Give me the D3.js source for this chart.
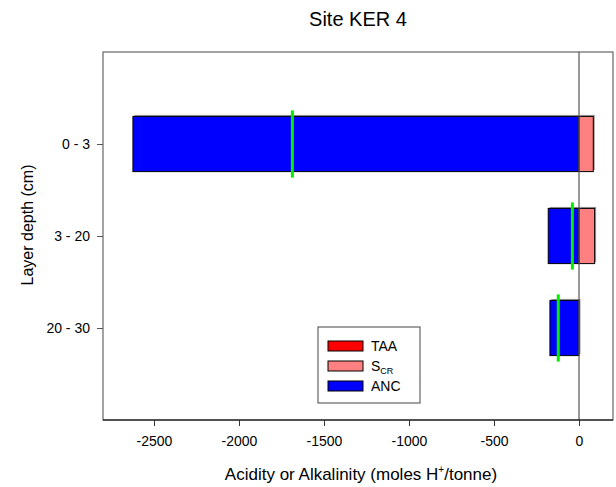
<!DOCTYPE html>
<html>
<head>
<meta charset="utf-8">
<script src="https://cdn.jsdelivr.net/npm/d3@7"></script>
<style>
body { margin: 0; background: #fff; }
text { font-family: "Liberation Sans", Arial, sans-serif; }
</style>
</head>
<body>
<div id="chart"></div>
<script>
var layers = ["0 - 3", "3 - 20", "20 - 30"];
var taa = [0, 0, 0];
var scr = [84, 92, 0];
var anc = [-2624, -181, -171];
var net = [-1686, -39, -122];
var xTicks = [-2500, -2000, -1500, -1000, -500, 0];

var W = 616, H = 487;
var plotLeft = 103, plotRight = 613, plotTop = 52, plotBottom = 420;

var svg = d3.select("#chart").append("svg")
    .attr("width", W).attr("height", H);

var x = d3.scaleLinear().domain([-2800, 200]).range([plotLeft, plotRight]);
var y = d3.scaleLinear().domain([0, 4]).range([plotTop, plotBottom]);
var barH = y(0.6) - y(0);

// frame
svg.append("rect")
    .attr("x", plotLeft).attr("y", plotTop)
    .attr("width", plotRight - plotLeft).attr("height", plotBottom - plotTop)
    .attr("fill", "none").attr("stroke", "#666").attr("stroke-width", 1.2);

var rows = layers.map(function (d, i) {
    return { layer: d, taa: taa[i], scr: scr[i], anc: anc[i], net: net[i], pos: i + 1 };
});

function bar(x0, x1, yc, color) {
    if (x0 == x1) return;
    var a = Math.min(x(x0), x(x1)), b = Math.max(x(x0), x(x1));
    // drop shadow
    svg.append("rect")
        .attr("x", a + 1.5).attr("y", y(yc) - barH / 2 - 1.5)
        .attr("width", b - a).attr("height", barH)
        .attr("fill", "#999");
    svg.append("rect")
        .attr("x", a).attr("y", y(yc) - barH / 2)
        .attr("width", b - a).attr("height", barH)
        .attr("fill", color).attr("stroke", "#000").attr("stroke-width", 1);
}

rows.forEach(function (r) {
    bar(0, r.anc, r.pos, "#0000ff");
    bar(0, r.taa, r.pos, "#ff0000");
    bar(r.taa, r.taa + r.scr, r.pos, "#ff8080");
});

// zero line over bars
svg.append("line")
    .attr("x1", x(0)).attr("x2", x(0))
    .attr("y1", plotTop).attr("y2", plotBottom)
    .attr("stroke", "#555").attr("stroke-width", 1.2);

// net lines
svg.selectAll(".net").data(rows).enter().append("line")
    .attr("x1", function (d) { return x(d.net); })
    .attr("x2", function (d) { return x(d.net); })
    .attr("y1", function (d) { return y(d.pos) - barH / 2 - 6; })
    .attr("y2", function (d) { return y(d.pos) + barH / 2 + 6; })
    .attr("stroke", "#00ee00").attr("stroke-width", 3);

// x axis
var xAxis = svg.append("g")
    .attr("transform", "translate(0," + plotBottom + ")")
    .call(d3.axisBottom(x).tickValues(xTicks).tickSize(6).tickPadding(10).tickFormat(d3.format("d")));
xAxis.select(".domain").attr("d", "M" + plotLeft + ",0H" + plotRight).attr("stroke", "#000");
xAxis.selectAll("text").attr("font-size", 14).attr("fill", "#000")
    .text(function (d) { return String(d); });
xAxis.selectAll("line").attr("stroke", "#333");

// y axis
var yAxis = svg.append("g")
    .attr("transform", "translate(" + plotLeft + ",0)")
    .call(d3.axisLeft(y).tickValues([1, 2, 3]).tickSize(6).tickPadding(7)
        .tickFormat(function (d) { return layers[d - 1]; }));
yAxis.select(".domain").remove();
yAxis.selectAll("text").attr("font-size", 14).attr("fill", "#000");
yAxis.selectAll("line").attr("stroke", "#555");

// titles
svg.append("text").attr("x", (plotLeft + plotRight) / 2).attr("y", 26)
    .attr("text-anchor", "middle").attr("font-size", 20).text("Site KER 4");

var xt = svg.append("text").attr("x", 361).attr("y", 480)
    .attr("text-anchor", "middle").attr("font-size", 17);
xt.append("tspan").text("Acidity or Alkalinity (moles H");
xt.append("tspan").attr("font-size", 10).attr("dy", -7).text("+");
xt.append("tspan").attr("dy", 7).text("/tonne)");

svg.append("text")
    .attr("transform", "translate(33,225) rotate(-90)")
    .attr("text-anchor", "middle").attr("font-size", 16).text("Layer depth (cm)");

// legend
var lg = svg.append("g");
lg.append("rect").attr("x", 318).attr("y", 327).attr("width", 102).attr("height", 76)
    .attr("fill", "#fff").attr("stroke", "#444").attr("stroke-width", 1);
var legendItems = [
    { label: "TAA", color: "#ff0000" },
    { label: "S", sub: "CR", color: "#ff8080" },
    { label: "ANC", color: "#0000ff" }
];
legendItems.forEach(function (d, i) {
    var yy = 346 + i * 20;
    lg.append("rect").attr("x", 328).attr("y", yy - 5).attr("width", 35).attr("height", 10)
        .attr("fill", d.color).attr("stroke", "#000").attr("stroke-width", 1);
    var t = lg.append("text").attr("x", 371).attr("y", yy + 5).attr("font-size", 14);
    t.append("tspan").text(d.label);
    if (d.sub) t.append("tspan").attr("font-size", 9).attr("dy", 3).text(d.sub);
});
</script>
</body>
</html>
